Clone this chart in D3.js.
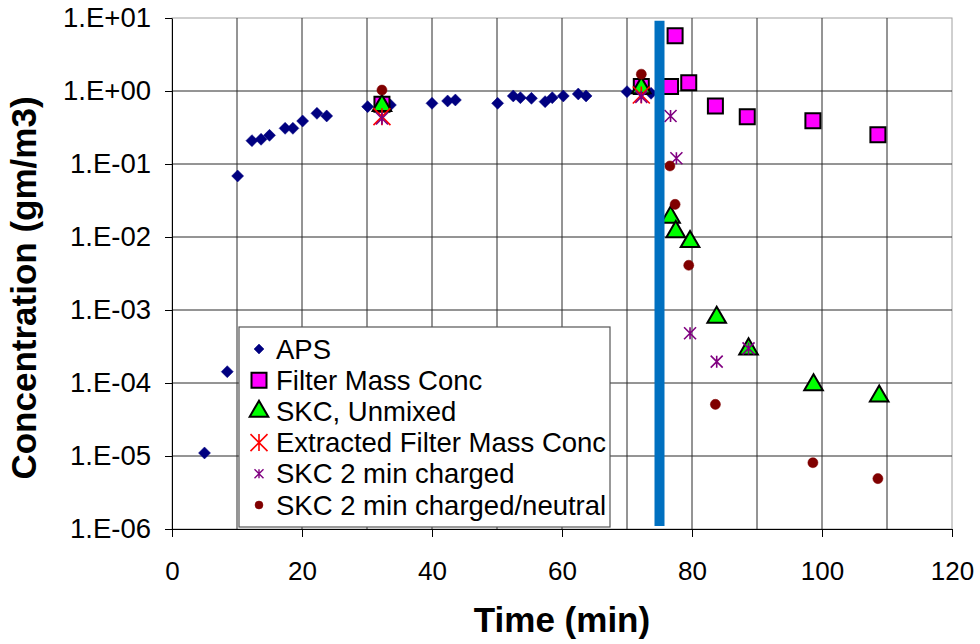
<!DOCTYPE html>
<html>
<head>
<meta charset="utf-8">
<script src="https://cdn.jsdelivr.net/npm/d3@7/dist/d3.min.js"></script>
<style>
  html, body { margin: 0; padding: 0; background: #fff; }
  svg text { font-family: "Liberation Sans", Arial, sans-serif; }
</style>
</head>
<body>
<svg id="chart" width="980" height="644"></svg>
<script>
// APS concentration time series
const apsTime = [5.0, 8.5, 10.1, 12.3, 13.7, 15.0, 17.4, 18.6, 20.1, 22.3, 23.8, 30.1, 33.6, 40.0, 42.4, 43.6, 50.1, 52.5, 53.6, 55.3, 57.4, 58.5, 60.2, 62.5, 63.7, 70.0, 73.7];
const apsConc = [1.1e-5, 1.43e-4, 0.0685, 0.209, 0.218, 0.247, 0.308, 0.308, 0.388, 0.494, 0.455, 0.61, 0.643, 0.678, 0.73, 0.753, 0.678, 0.855, 0.81, 0.794, 0.715, 0.81, 0.855, 0.91, 0.855, 0.98, 0.93];

// Filter mass concentration
const filterTime = [32.3, 72.2, 76.7, 77.4, 79.5, 83.6, 88.5, 98.6, 108.6];
const filterConc = [0.656, 1.15, 1.15, 5.72, 1.3, 0.624, 0.445, 0.392, 0.252];

// SKC, unmixed
const skcTime = [32.3, 72.2, 76.7, 77.5, 79.7, 83.8, 88.7, 98.7, 108.8];
const skcConc = [0.63, 1.1, 0.0186, 0.0118, 0.00863, 7.9e-4, 2.92e-4, 9.4e-5, 6.6e-5];

// Extracted filter mass concentration
const extractedTime = [32.3, 72.2];
const extractedConc = [0.445, 0.88];

// SKC 2 min charged
const chargedTime = [32.3, 72.2, 76.7, 77.6, 79.7, 83.8, 88.7];
const chargedConc = [0.42, 0.83, 0.455, 0.12, 4.8e-4, 1.96e-4, 2.98e-4];

// SKC 2 min charged/neutral
const neutralTime = [32.3, 72.2, 76.6, 77.4, 79.5, 83.6, 98.6, 108.6];
const neutralConc = [1.03, 1.7, 0.094, 0.028, 0.0041, 5.1e-5, 8.1e-6, 4.9e-6];

// Vertical marker line at t = 75 min
const markerTime = [75, 75];
const markerConc = [9.2, 1.1e-6];

// Axis ticks
const xTicks = [0, 20, 40, 60, 80, 100, 120];
const xGrid = [10, 20, 30, 40, 50, 60, 70, 80, 90, 100, 110];
const yTicks = [1e1, 1e0, 1e-1, 1e-2, 1e-3, 1e-4, 1e-5, 1e-6];
const yTickLabels = ["1.E+01", "1.E+00", "1.E-01", "1.E-02", "1.E-03", "1.E-04", "1.E-05", "1.E-06"];

const legendLabels = ["APS", "Filter Mass Conc", "SKC, Unmixed", "Extracted Filter Mass Conc", "SKC 2 min charged", "SKC 2 min charged/neutral"];

const plotL = 172, plotR = 952, plotT = 18, plotB = 529;
const svg = d3.select("#chart");

const x = d3.scaleLinear().domain([0, 120]).range([plotL, plotR]);
const y = d3.scaleLog().domain([1e-6, 1e1]).range([plotB, plotT]);

// Plot area frame
svg.append("rect")
  .attr("x", plotL).attr("y", plotT)
  .attr("width", plotR - plotL).attr("height", plotB - plotT)
  .attr("fill", "#fff").attr("stroke", "#a0a0a0").attr("stroke-width", 1);

// Gridlines
const grid = svg.append("g").attr("stroke", "#2a2a2a").attr("stroke-width", 1);
grid.selectAll("line.v").data(xGrid).join("line")
  .attr("class", "v")
  .attr("x1", d => x(d)).attr("x2", d => x(d))
  .attr("y1", plotT).attr("y2", plotB);
grid.selectAll("line.h").data(yTicks.slice(1, -1)).join("line")
  .attr("class", "h")
  .attr("x1", plotL).attr("x2", plotR)
  .attr("y1", d => y(d)).attr("y2", d => y(d));

// Axes
const xAxis = d3.axisBottom(x).tickValues(xTicks).tickSize(8).tickSizeOuter(0).tickPadding(25);
const gx = svg.append("g").attr("transform", `translate(0,${plotB})`).call(xAxis);
gx.select(".domain").attr("stroke", "#000");
gx.selectAll(".tick line").attr("stroke", "#000");
gx.selectAll(".tick text")
  .attr("font-size", 26).attr("fill", "#000")
  .style("font-family", "'Liberation Sans', Arial, sans-serif");

const yAxis = d3.axisLeft(y).tickValues(yTicks)
  .tickFormat((d, i) => yTickLabels[i]).tickSize(7).tickSizeOuter(0).tickPadding(14);
const gy = svg.append("g").attr("transform", `translate(${plotL},0)`).call(yAxis);
gy.select(".domain").attr("stroke", "#000");
gy.selectAll(".tick line").attr("stroke", "#000");
gy.selectAll(".tick text")
  .attr("font-size", 27.5).attr("fill", "#000")
  .style("font-family", "'Liberation Sans', Arial, sans-serif");

// Axis titles
svg.append("text")
  .attr("x", (plotL + plotR) / 2).attr("y", 632)
  .attr("text-anchor", "middle")
  .attr("font-size", 35).attr("font-weight", "bold")
  .text("Time (min)");
svg.append("text")
  .attr("transform", `translate(36,288) rotate(-90)`)
  .attr("text-anchor", "middle")
  .attr("font-size", 35).attr("font-weight", "bold")
  .text("Concentration (gm/m3)");

// Marker shapes
const starPath = h => `M${-h},${-h}L${h},${h}M${-h},${h}L${h},${-h}M0,${-h}L0,${h}`;
const diamond = "M0,-6L6,0L0,6L-6,0Z";

const styles = [
  { path: diamond, fill: "#000080", stroke: "#000080", sw: 0.5 },
  { path: d3.symbol(d3.symbolSquare, 225)(), fill: "#ff00ff", stroke: "#000", sw: 2 },
  { path: d3.symbol(d3.symbolTriangle, 150)(), fill: "#00ff00", stroke: "#000", sw: 2 },
  { path: starPath(8.5), fill: "none", stroke: "#ff0000", sw: 1.6 },
  { path: starPath(6), fill: "none", stroke: "#800080", sw: 1.6 },
  { path: d3.symbol(d3.symbolCircle, 80)(), fill: "#800000", stroke: "#800000", sw: 0.5 }
];

const seriesData = [
  [apsTime, apsConc],
  [filterTime, filterConc],
  [skcTime, skcConc],
  [extractedTime, extractedConc],
  [chargedTime, chargedConc],
  [neutralTime, neutralConc]
];

seriesData.forEach(([ts, cs], si) => {
  const st = styles[si];
  svg.append("g").selectAll("path").data(ts.map((t, i) => [t, cs[i]])).join("path")
    .attr("transform", d => `translate(${x(d[0])},${y(d[1])})`)
    .attr("d", st.path)
    .attr("fill", st.fill).attr("stroke", st.stroke).attr("stroke-width", st.sw);
});

// Vertical marker line
svg.append("path")
  .datum(markerTime.map((t, i) => [t, markerConc[i]]))
  .attr("d", d3.line().x(d => x(d[0])).y(d => y(d[1])))
  .attr("stroke", "#0070c0").attr("stroke-width", 10).attr("fill", "none");

// Legend
const lg = svg.append("g");
lg.append("rect")
  .attr("x", 239).attr("y", 327).attr("width", 371).attr("height", 200)
  .attr("fill", "#fff").attr("stroke", "#555").attr("stroke-width", 1.2);
const legendStyles = [
  { path: "M0,-5L5,0L0,5L-5,0Z", fill: "#000080", stroke: "#000080", sw: 0.5 },
  styles[1], styles[2], styles[3],
  { path: starPath(4.5), fill: "none", stroke: "#800080", sw: 1.4 },
  { path: d3.symbol(d3.symbolCircle, 50)(), fill: "#800000", stroke: "#800000", sw: 0.5 }
];
legendLabels.forEach((lab, i) => {
  const cy = 349 + i * 31.2;
  const st = legendStyles[i];
  lg.append("path")
    .attr("transform", `translate(259,${cy})`)
    .attr("d", st.path)
    .attr("fill", st.fill).attr("stroke", st.stroke).attr("stroke-width", st.sw);
  lg.append("text")
    .attr("x", 276).attr("y", cy)
    .attr("dy", "0.35em")
    .attr("font-size", 27.5)
    .text(lab);
});
</script>
</body>
</html>
